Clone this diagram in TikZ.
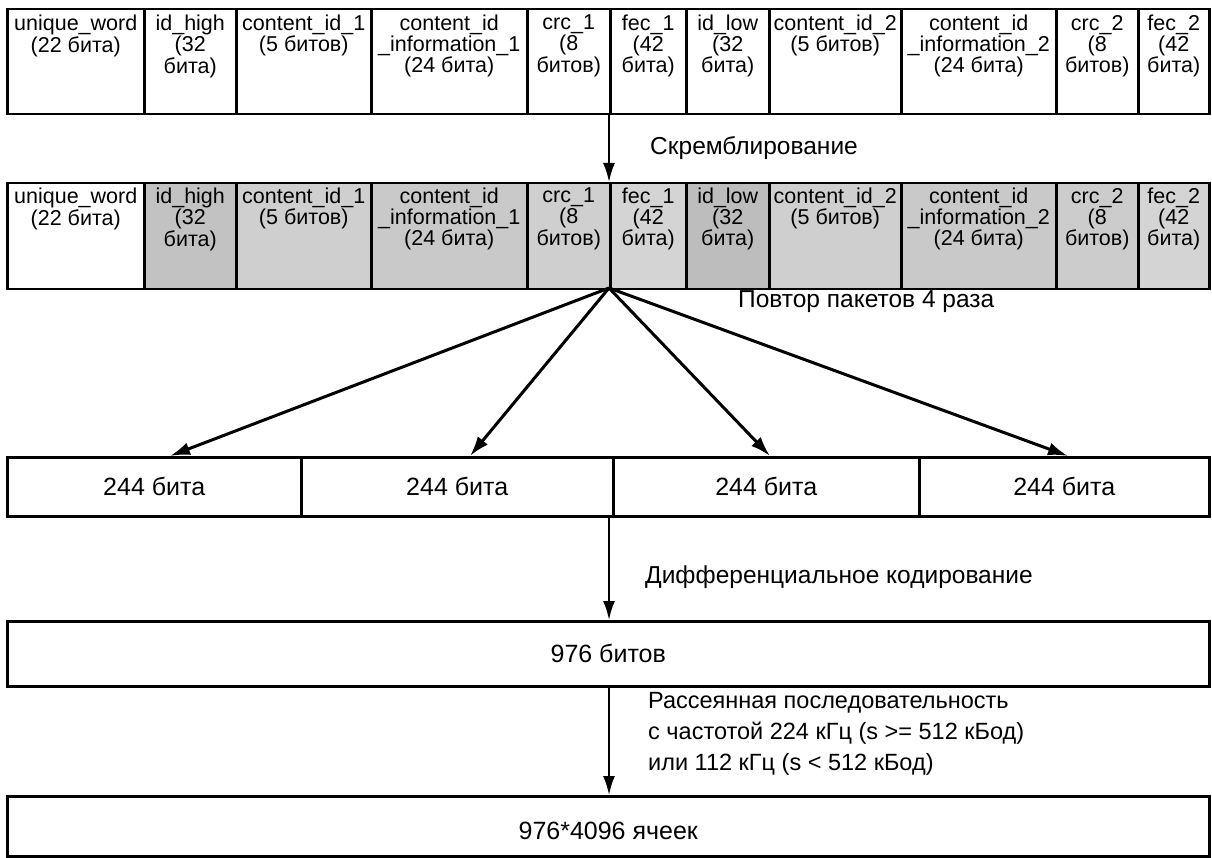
\documentclass[tikz,border=0pt]{standalone}
\usepackage{fontspec}
\setmainfont{Liberation Sans}
\usetikzlibrary{arrows.meta,calc}
\begin{document}
\begin{tikzpicture}[x=1pt,y=-1pt,
  cellbox/.style={draw, line width=2.5pt, inner sep=0pt, anchor=north west},
  celltext/.style={inner sep=0pt, anchor=north, align=center, font=\fontsize{21.5}{17.5}\selectfont},
  boxtext/.style={inner sep=0pt, font=\fontsize{25}{28}\selectfont},
  lbl/.style={inner sep=0pt, anchor=west, font=\fontsize{24.5}{31}\selectfont},
  arr/.style={line width=2pt, -{Latex[length=19pt,width=12pt]}},
  darr/.style={line width=3pt, -{Latex[length=20pt,width=13pt]}}]
\useasboundingbox (0,0) rectangle (1212,858);
% row 1
\foreach \i/\xl/\xr/\t in {1/6/143/{unique\_word\\(22 бита)}, 2/143/235/{id\_high\\(32\\бита)}, 3/235/370/{content\_id\_1\\(5 битов)}, 4/370/526/{content\_id\\\_information\_1\\(24 бита)}, 5/526/609/{crc\_1\\(8\\битов)}, 6/609/685/{fec\_1\\(42\\бита)}, 7/685/768/{id\_low\\(32\\бита)}, 8/768/900/{content\_id\_2\\(5 битов)}, 9/900/1055/{content\_id\\\_information\_2\\(24 бита)}, 10/1055/1137/{crc\_2\\(8\\битов)}, 11/1137/1208/{fec\_2\\(42\\бита)}}{
  \node (ra\i) [cellbox, minimum width={(\xr-\xl)*1pt}, minimum height=105pt] at (\xl,8) {};
  \node (ta\i) [celltext] at ($(ra\i.north)+(0,7)$) {\t};
}
% row 2
\foreach \i/\xl/\xr/\t/\s in {1/6/143/{unique\_word\\(22 бита)}/white, 2/143/235/{id\_high\\(32\\бита)}/black!24, 3/235/370/{content\_id\_1\\(5 битов)}/black!19, 4/370/526/{content\_id\\\_information\_1\\(24 бита)}/black!21, 5/526/609/{crc\_1\\(8\\битов)}/black!19, 6/609/685/{fec\_1\\(42\\бита)}/black!17, 7/685/768/{id\_low\\(32\\бита)}/black!26, 8/768/900/{content\_id\_2\\(5 битов)}/black!19, 9/900/1055/{content\_id\\\_information\_2\\(24 бита)}/black!21, 10/1055/1137/{crc\_2\\(8\\битов)}/black!20, 11/1137/1208/{fec\_2\\(42\\бита)}/black!17}{
  \node (rb\i) [cellbox, fill=\s, minimum width={(\xr-\xl)*1pt}, minimum height=106pt] at (\xl,182) {};
  \node (tb\i) [celltext] at ($(rb\i.north)+(0,6)$) {\t};
}
% 244 boxes
\foreach \i/\xl/\xr in {1/6/300, 2/300/612, 3/612/918, 4/918/1208}{
  \node (p\i) [cellbox, minimum width={(\xr-\xl)*1pt}, minimum height=59pt] at (\xl,456) {};
  \node (pt\i) [boxtext] at (p\i.center) {244 бита};
}
\node (d) [cellbox, minimum width=1202pt, minimum height=65pt] at (6,620) {};
\node (dt) [boxtext] at (d.center) {976 битов};
\node (e) [cellbox, minimum width=1202pt, minimum height=60pt] at (6,795) {};
\node (et) [boxtext] at ($(e.center)+(0,5)$) {976*4096 ячеек};
% arrows
\coordinate (s1) at (609,113);
\coordinate (s2) at (609,182);
\coordinate (sp) at (609,288);
\coordinate (q1) at (170,456);
\coordinate (q2) at (470,456);
\coordinate (q3) at (770,456);
\coordinate (q4) at (1068,456);
\coordinate (u1) at (609,515);
\coordinate (u2) at (609,620);
\coordinate (v1) at (609,685);
\coordinate (v2) at (609,795);
\draw[arr] (s1) -- (s2);
\foreach \k in {1,2,3,4}{\draw[darr] (sp) -- (q\k);}
\draw[arr] (u1) -- (u2);
\draw[arr] (v1) -- (v2);
% labels
\node (l1) [lbl] at (650,148) {Скремблирование};
\node (l2) [lbl] at (738,302) {Повтор пакетов 4 раза};
\node (l3) [lbl] at (645,577) {Дифференциальное кодирование};
\node (l4) [lbl, anchor=north west, align=left, font=\fontsize{23.5}{31}\selectfont] at (648,692) {Рассеянная последовательность\\с частотой 224 кГц (s >= 512 кБод)\\или 112 кГц (s < 512 кБод)};
\end{tikzpicture}
\end{document}
